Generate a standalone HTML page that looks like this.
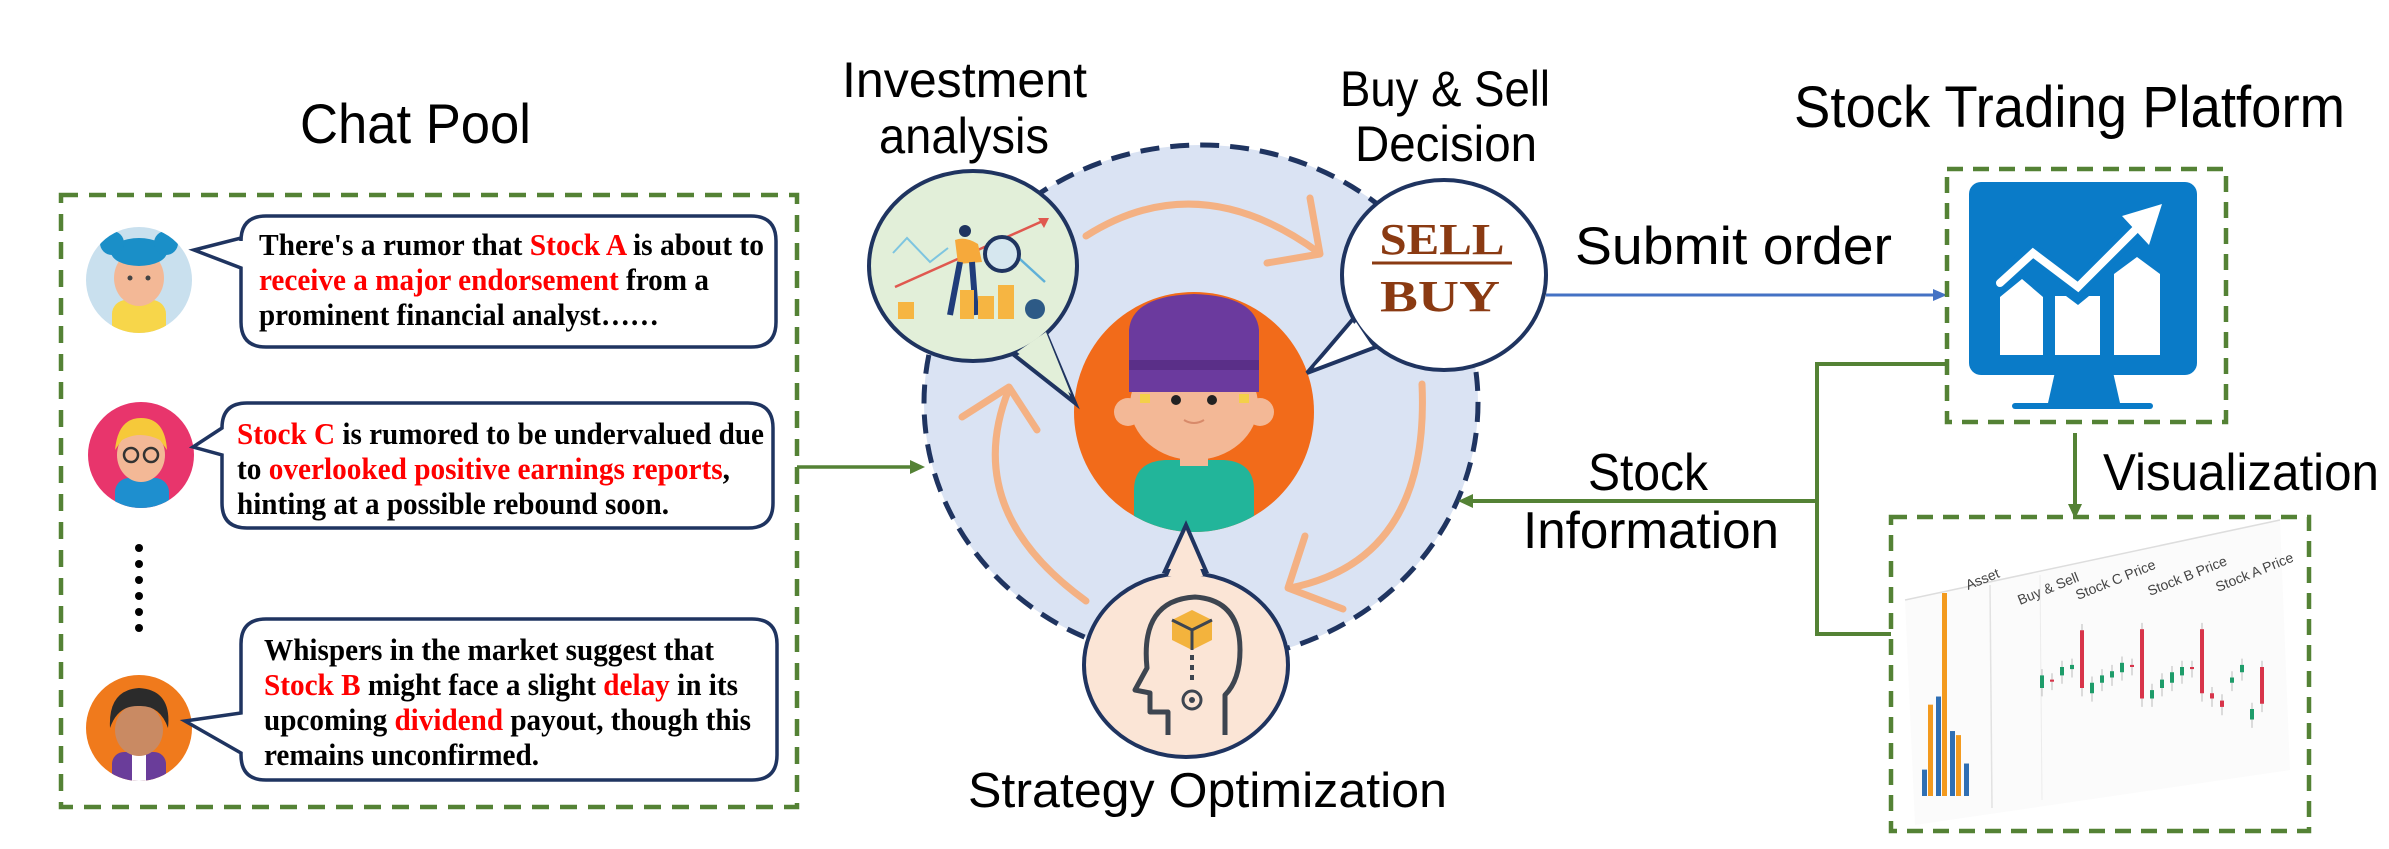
<!DOCTYPE html>
<html><head><meta charset="utf-8"><style>
html,body{margin:0;padding:0;background:#fff;}
svg{display:block;}
.hd{font-family:"Liberation Sans",sans-serif;fill:#000;}
.sr{font-family:"Liberation Serif",serif;font-weight:bold;font-size:31px;fill:#000;}
.rd{fill:#ff0000;}
</style></head><body>
<svg id="root" width="2389" height="849" viewBox="0 0 2389 849" xmlns="http://www.w3.org/2000/svg">
<!-- ===== Chat Pool ===== -->
<text class="hd" x="300" y="143" font-size="56" textLength="231" lengthAdjust="spacingAndGlyphs">Chat Pool</text>
<rect x="61" y="195" width="736" height="612" fill="none" stroke="#548235" stroke-width="4.5" stroke-dasharray="17 11"/>

<!-- avatar 1 -->
<g>
<clipPath id="ca1"><circle cx="139" cy="280" r="53"/></clipPath>
<circle cx="139" cy="280" r="53" fill="#c9e0ee"/>
<g clip-path="url(#ca1)">
<rect x="112" y="300" width="54" height="40" rx="14" fill="#f7d64a"/>
<ellipse cx="139" cy="278" rx="25" ry="28" fill="#f3b896"/>
<ellipse cx="139" cy="252" rx="28" ry="14" fill="#1a8fc8"/>
<circle cx="112" cy="243" r="12" fill="#1a8fc8"/><circle cx="166" cy="243" r="12" fill="#1a8fc8"/>
<circle cx="130" cy="278" r="2.5" fill="#444"/><circle cx="148" cy="278" r="2.5" fill="#444"/>
</g></g>
<!-- avatar 2 -->
<g>
<clipPath id="ca2"><circle cx="141" cy="455" r="53"/></clipPath>
<circle cx="141" cy="455" r="53" fill="#e8356c"/>
<g clip-path="url(#ca2)">
<rect x="115" y="478" width="54" height="40" rx="14" fill="#1e8fcf"/>
<ellipse cx="141" cy="455" rx="24" ry="27" fill="#f3b896"/>
<path d="M115 450 Q118 418 141 418 Q165 418 167 450 L160 440 Q140 430 122 440Z" fill="#f6c93a"/>
<circle cx="131" cy="455" r="7" fill="none" stroke="#333" stroke-width="2.5"/><circle cx="151" cy="455" r="7" fill="none" stroke="#333" stroke-width="2.5"/>
</g></g>
<!-- dots -->
<g fill="#000">
<circle cx="139" cy="548" r="4"/><circle cx="139" cy="564" r="4"/><circle cx="139" cy="580" r="4"/><circle cx="139" cy="596" r="4"/><circle cx="139" cy="612" r="4"/><circle cx="139" cy="628" r="4"/>
</g>
<!-- avatar 3 -->
<g>
<clipPath id="ca3"><circle cx="139" cy="728" r="53"/></clipPath>
<circle cx="139" cy="728" r="53" fill="#f07a1c"/>
<g clip-path="url(#ca3)">
<rect x="112" y="752" width="54" height="40" rx="12" fill="#6a3d9a"/>
<rect x="132" y="752" width="14" height="40" fill="#fff"/>
<ellipse cx="139" cy="730" rx="24" ry="26" fill="#c98a63"/>
<path d="M110 728 Q108 690 139 688 Q172 690 168 728 Q160 705 139 706 Q118 705 110 728Z" fill="#2b2b2b"/>
</g></g>

<!-- bubble 1 -->
<path d="M266 216 H751 Q776 216 776 241 V322 Q776 347 751 347 H266 Q241 347 241 322 V268 L194 250 L241 238 V241 Q241 216 266 216Z" fill="#fff" stroke="#1f3460" stroke-width="3.5"/>
<text class="sr" x="259" y="255" textLength="505" lengthAdjust="spacingAndGlyphs">There's a rumor that <tspan class="rd">Stock A</tspan> is about to</text>
<text class="sr" x="259" y="290" textLength="450" lengthAdjust="spacingAndGlyphs"><tspan class="rd">receive a major endorsement</tspan> from a</text>
<text class="sr" x="259" y="325" textLength="400" lengthAdjust="spacingAndGlyphs">prominent financial analyst……</text>

<!-- bubble 2 -->
<path d="M247 403 H748 Q773 403 773 428 V503 Q773 528 748 528 H247 Q222 528 222 503 V455 L193 447 L222 428 Q222 403 247 403Z" fill="#fff" stroke="#1f3460" stroke-width="3.5"/>
<text class="sr" x="237" y="444" textLength="527" lengthAdjust="spacingAndGlyphs"><tspan class="rd">Stock C</tspan> is rumored to be undervalued due</text>
<text class="sr" x="237" y="479" textLength="493" lengthAdjust="spacingAndGlyphs">to <tspan class="rd">overlooked positive earnings reports</tspan>,</text>
<text class="sr" x="237" y="514" textLength="432" lengthAdjust="spacingAndGlyphs">hinting at a possible rebound soon.</text>

<!-- bubble 3 -->
<path d="M266 619 H752 Q777 619 777 644 V755 Q777 780 752 780 H266 Q241 780 241 755 V753 L185 721 L241 713 V644 Q241 619 266 619Z" fill="#fff" stroke="#1f3460" stroke-width="3.5"/>
<text class="sr" x="264" y="660" textLength="450" lengthAdjust="spacingAndGlyphs">Whispers in the market suggest that</text>
<text class="sr" x="264" y="695" textLength="474" lengthAdjust="spacingAndGlyphs"><tspan class="rd">Stock B</tspan> might face a slight <tspan class="rd">delay</tspan> in its</text>
<text class="sr" x="264" y="730" textLength="487" lengthAdjust="spacingAndGlyphs">upcoming <tspan class="rd">dividend</tspan> payout, though this</text>
<text class="sr" x="264" y="765" textLength="275" lengthAdjust="spacingAndGlyphs">remains unconfirmed.</text>

<!-- arrow chat -> agent -->
<g>
<line x1="797" y1="467" x2="914" y2="467" stroke="#548235" stroke-width="3.5"/>
<path d="M925 467 L910 460 L910 474Z" fill="#548235"/>
</g>

<!-- ===== Agent cycle ===== -->
<ellipse cx="1201" cy="403" rx="277" ry="258" fill="#dae3f3" stroke="#1f3460" stroke-width="5" stroke-dasharray="19 11"/>

<!-- orange arrows -->
<g fill="none" stroke="#f4b183" stroke-width="7" stroke-linecap="round" stroke-linejoin="round">
<path d="M1086 236 Q1198 165 1318 252"/>
<path d="M1310 198 L1320 254 L1267 263"/>
<path d="M1422 384 Q1430 560 1290 588"/>
<path d="M1305 536 L1288 588 L1343 609"/>
<path d="M1086 601 Q960 510 1009 389"/>
<path d="M962 417 L1009 387 L1037 430"/>
</g>

<!-- agent avatar -->
<g>
<clipPath id="cag"><circle cx="1194" cy="412" r="120"/></clipPath>
<circle cx="1194" cy="412" r="120" fill="#f26b1a"/>
<g clip-path="url(#cag)">
<path d="M1134 540 V490 Q1134 462 1165 460 H1224 Q1254 462 1254 490 V540Z" fill="#22b59a"/>
<rect x="1180" y="440" width="28" height="26" fill="#f3b896"/>
<circle cx="1128" cy="412" r="14" fill="#f3b896"/><circle cx="1260" cy="412" r="14" fill="#f3b896"/>
<ellipse cx="1194" cy="405" rx="64" ry="55" fill="#f3b896"/>
<path d="M1129 392 V330 Q1132 296 1194 294 Q1256 296 1259 330 V392Z" fill="#6b3a9e"/>
<rect x="1129" y="360" width="130" height="10" fill="#5a2f88"/>
<rect x="1140" y="394" width="10" height="9" fill="#f3d04a"/><rect x="1239" y="394" width="10" height="9" fill="#f3d04a"/>
<circle cx="1176" cy="400" r="5" fill="#222"/><circle cx="1212" cy="400" r="5" fill="#222"/>
<path d="M1184 420 Q1194 426 1204 420" fill="none" stroke="#d88a6a" stroke-width="2"/>
</g></g>

<!-- investment bubble -->
<g>
<path d="M1047 336 L1075 403 L1014 355Z" fill="#e2efd9" stroke="#1f3460" stroke-width="4" stroke-linejoin="miter"/>
<ellipse cx="973" cy="266" rx="104" ry="95" fill="#e2efd9" stroke="#1f3460" stroke-width="4"/>
<path d="M1046 332 L1071 394 L1017 352Z" fill="#e2efd9"/>
<polyline points="893,253 907,238 930,262 948,248" fill="none" stroke="#7ec5e0" stroke-width="2"/>
<line x1="895" y1="287" x2="1045" y2="220" stroke="#e0584f" stroke-width="2.5"/>
<path d="M1049 218 L1038 218 L1044 228Z" fill="#e0584f"/>
<line x1="1010" y1="250" x2="1045" y2="282" stroke="#5fb0d8" stroke-width="2.5"/>
<circle cx="1002" cy="254" r="17" fill="#d6e7ef" stroke="#1f3460" stroke-width="4"/>
<circle cx="965" cy="231" r="6" fill="#1f3460"/>
<path d="M955 240 Q965 236 978 244 L982 262 L958 264Z" fill="#f6a93b"/>
<path d="M960 262 L950 315 M972 262 L976 315" stroke="#1f3c7a" stroke-width="6"/>
<rect x="898" y="302" width="16" height="17" fill="#f6b542"/>
<rect x="960" y="290" width="14" height="29" fill="#f6b542"/>
<rect x="978" y="296" width="16" height="23" fill="#f6b542"/>
<rect x="998" y="285" width="16" height="34" fill="#f6b542"/>
<circle cx="1035" cy="309" r="10" fill="#2d5a86"/>
</g>

<!-- sell/buy bubble -->
<g>
<path d="M1353 319 L1307 373 L1376 347Z" fill="#fff" stroke="#1f3460" stroke-width="4"/>
<ellipse cx="1444" cy="275" rx="102" ry="95" fill="#fff" stroke="#1f3460" stroke-width="4"/>
<path d="M1356 322 L1314 367 L1372 346Z" fill="#fff"/>
<text x="1442" y="254" text-anchor="middle" font-family="Liberation Serif,serif" font-weight="bold" font-size="44" fill="#8a3a12" textLength="125" lengthAdjust="spacingAndGlyphs">SELL</text>
<line x1="1372" y1="263" x2="1512" y2="263" stroke="#8a3a12" stroke-width="3"/>
<text x="1440" y="311" text-anchor="middle" font-family="Liberation Serif,serif" font-weight="bold" font-size="44" fill="#8a3a12" textLength="120" lengthAdjust="spacingAndGlyphs">BUY</text>
</g>

<!-- strategy bubble -->
<g>
<path d="M1165 571 L1186 525 L1206 571Z" fill="#fbe5d6" stroke="#1f3460" stroke-width="4"/>
<ellipse cx="1186" cy="665" rx="102" ry="92" fill="#fbe5d6" stroke="#1f3460" stroke-width="4"/>
<path d="M1168 576 L1186 533 L1203 576Z" fill="#fbe5d6"/>
<path d="M1168 735 V712 H1150 V693 L1135 690 L1147 668 Q1140 600 1195 597 Q1240 600 1240 650 Q1240 680 1225 695 V735" fill="none" stroke="#3d4550" stroke-width="5" stroke-linejoin="round"/>
<path d="M1192 610 L1212 620 L1212 640 L1192 650 L1172 640 L1172 620Z" fill="#f3b33d"/>
<path d="M1172 620 L1192 630 L1212 620 M1192 630 V650" fill="none" stroke="#3d4550" stroke-width="3"/>
<line x1="1192" y1="655" x2="1192" y2="685" stroke="#3d4550" stroke-width="4" stroke-dasharray="5 5"/>
<circle cx="1192" cy="700" r="9" fill="none" stroke="#3d4550" stroke-width="3"/>
<circle cx="1192" cy="700" r="3" fill="#3d4550"/>
</g>

<text class="hd" x="842" y="97" font-size="50" textLength="245" lengthAdjust="spacingAndGlyphs">Investment</text>
<text class="hd" x="879" y="153" font-size="50" textLength="170" lengthAdjust="spacingAndGlyphs">analysis</text>
<text class="hd" x="1340" y="106" font-size="50" textLength="210" lengthAdjust="spacingAndGlyphs">Buy &amp; Sell</text>
<text class="hd" x="1355" y="161" font-size="50" textLength="182" lengthAdjust="spacingAndGlyphs">Decision</text>
<text class="hd" x="968" y="807" font-size="49" textLength="479" lengthAdjust="spacingAndGlyphs">Strategy Optimization</text>

<!-- submit order -->
<text class="hd" x="1575" y="264" font-size="53" textLength="317" lengthAdjust="spacingAndGlyphs">Submit order</text>
<g>
<line x1="1546" y1="295" x2="1936" y2="295" stroke="#4472c4" stroke-width="3"/>
<path d="M1947 295 L1933 289 L1933 301Z" fill="#4472c4"/>
</g>

<!-- ===== Platform ===== -->
<text class="hd" x="1794" y="127" font-size="58" textLength="551" lengthAdjust="spacingAndGlyphs">Stock Trading Platform</text>
<rect x="1947" y="169" width="279" height="253" fill="none" stroke="#548235" stroke-width="4.5" stroke-dasharray="16 10"/>
<g>
<rect x="1969" y="182" width="228" height="193" rx="12" fill="#0a7bc8"/>
<path d="M2055 372 L2113 372 L2120 403 L2048 403Z" fill="#0a7bc8"/>
<rect x="2012" y="403" width="141" height="6" rx="3" fill="#0a7bc8"/>
<path d="M2000 355 V297 L2022 279 L2043 297 V355Z" fill="#fff"/>
<path d="M2055 355 V296 L2066 296 L2078 305 L2089 296 L2100 296 V355Z" fill="#fff"/>
<path d="M2114 355 V274 L2137 257 L2160 274 V355Z" fill="#fff"/>
<polyline points="2000,283 2033,253 2078,287 2138,227" fill="none" stroke="#0a7bc8" stroke-width="18" stroke-linejoin="miter" stroke-linecap="round"/>
<polyline points="2000,283 2033,253 2078,287 2140,225" fill="none" stroke="#fff" stroke-width="8" stroke-linejoin="miter" stroke-linecap="round"/>
<path d="M2162 204 L2122 216 L2149 245Z" fill="#fff"/>
</g>

<!-- stock information lines -->
<g fill="none" stroke="#548235" stroke-width="4">
<polyline points="1947,364 1817,364 1817,634 1891,634"/>
<line x1="1817" y1="501" x2="1470" y2="501"/>
</g>
<path d="M1458 501 L1473 494 L1473 508Z" fill="#548235"/>
<text class="hd" x="1588" y="490" font-size="52" textLength="120" lengthAdjust="spacingAndGlyphs">Stock</text>
<text class="hd" x="1523" y="548" font-size="52" textLength="256" lengthAdjust="spacingAndGlyphs">Information</text>

<!-- visualization -->
<g>
<line x1="2075" y1="433" x2="2075" y2="508" stroke="#548235" stroke-width="4"/>
<path d="M2075 519 L2068 504 L2082 504Z" fill="#548235"/>
</g>
<text class="hd" x="2103" y="490" font-size="52" textLength="276" lengthAdjust="spacingAndGlyphs">Visualization</text>
<rect x="1891" y="517" width="418" height="314" fill="none" stroke="#548235" stroke-width="4.5" stroke-dasharray="16 10"/>
<g id="mini">
<path d="M1905 600 L2280 520 L2290 770 L1915 825Z" fill="#fbfbfb"/>
<path d="M1905 600 L2280 520" stroke="#ddd" stroke-width="1.5" fill="none"/>
<line x1="1990" y1="585" x2="1992" y2="808" stroke="#e2e2e2" stroke-width="1.5"/>
<line x1="2040" y1="575" x2="2042" y2="800" stroke="#ececec" stroke-width="1"/>
<text x="1968" y="590" font-family="Liberation Sans,sans-serif" font-size="14" fill="#444" transform="rotate(-22 1968 590)">Asset</text>
<text x="2020" y="605" font-family="Liberation Sans,sans-serif" font-size="14" fill="#444" transform="rotate(-22 2020 605)">Buy &amp; Sell</text>
<text x="2078" y="600" font-family="Liberation Sans,sans-serif" font-size="14" fill="#444" transform="rotate(-22 2078 600)">Stock C Price</text>
<text x="2150" y="596" font-family="Liberation Sans,sans-serif" font-size="14" fill="#444" transform="rotate(-22 2150 596)">Stock B Price</text>
<text x="2218" y="592" font-family="Liberation Sans,sans-serif" font-size="14" fill="#444" transform="rotate(-22 2218 592)">Stock A Price</text>
</g>
</svg>
<script>
// Mini dashboard data
const assetGroups = ['g1', 'g2', 'g3', 'g4'];
const blueAsset = [13, 49, 32, 16];
const orangeAsset = [45, 100, 30, 0];
const candleOpen  = [40, 48, 52, 58, 95, 35, 45, 50, 55, 62, 96, 30, 40, 45, 52, 60, 96, 35, 28, 45, 55, 10, 60];
const candleClose = [52, 46, 60, 62, 40, 45, 52, 56, 64, 60, 30, 38, 48, 55, 60, 58, 35, 30, 22, 50, 62, 20, 25];
const NS = 'http://www.w3.org/2000/svg';
const mini = document.getElementById('mini');
function assetX(i, k) { return 1922 + i * 14 + k * 6; }
function assetY(v) { return 796 - v * 2.03; }
function candleX(i) { return 2040 + i * 10; }
function candleY(v) { return 730 - v * 1.05; }
assetGroups.forEach(function (g, i) {
  [[blueAsset, '#2f6fb4', 0], [orangeAsset, '#f39a1e', 1]].forEach(function (s) {
    const v = s[0][i];
    if (v <= 0) return;
    const r = document.createElementNS(NS, 'rect');
    r.setAttribute('x', assetX(i, s[2]));
    r.setAttribute('y', assetY(v));
    r.setAttribute('width', 5);
    r.setAttribute('height', assetY(0) - assetY(v));
    r.setAttribute('fill', s[1]);
    
    
    mini.appendChild(r);
  });
});
candleOpen.forEach(function (o, i) {
  const c = candleClose[i];
  const up = c >= o;
  const col = up ? '#1e9c6a' : '#d8344a';
  const w = document.createElementNS(NS, 'line');
  w.setAttribute('x1', candleX(i) + 2); w.setAttribute('x2', candleX(i) + 2);
  w.setAttribute('y1', candleY(Math.max(o, c) + 6)); w.setAttribute('y2', candleY(Math.min(o, c) - 8));
  w.setAttribute('stroke', '#bbb'); w.setAttribute('stroke-width', 1);
  
  
  mini.appendChild(w);
  const r = document.createElementNS(NS, 'rect');
  r.setAttribute('x', candleX(i));
  r.setAttribute('y', candleY(Math.max(o, c)));
  r.setAttribute('width', 4);
  r.setAttribute('height', Math.max(2, Math.abs(candleY(o) - candleY(c))));
  r.setAttribute('fill', col);
  
  
  mini.appendChild(r);
});
</script>
</body></html>
